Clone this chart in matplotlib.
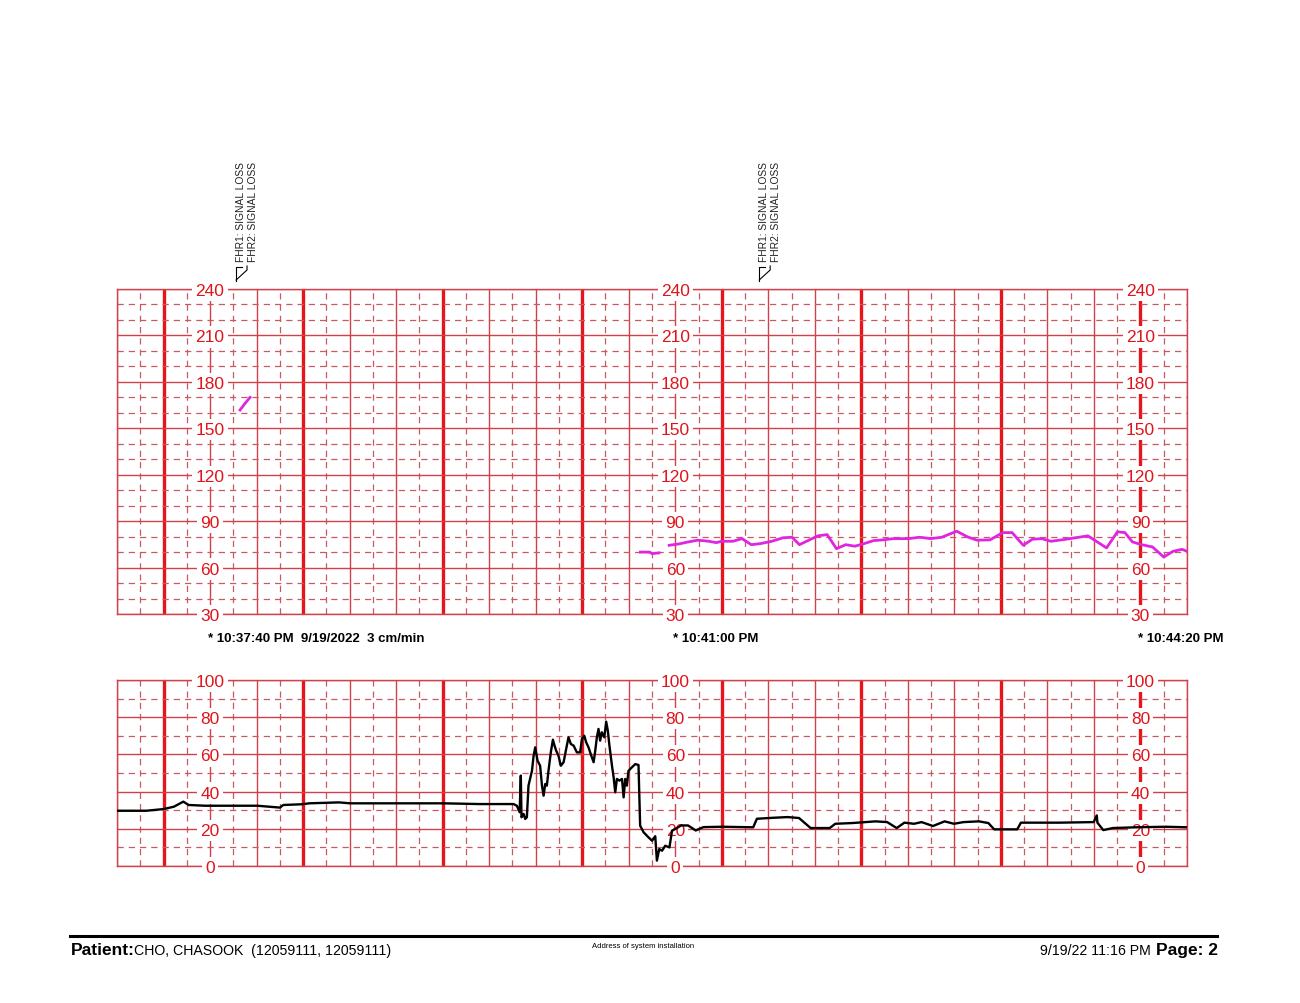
import matplotlib
matplotlib.use("Agg")
import numpy as np
from matplotlib import pyplot as plt
from matplotlib import transforms
from matplotlib.lines import Line2D

plt.rcParams['font.family'] = ['Liberation Sans', 'DejaVu Sans']

# thoi gian tinh bang giay ke tu 10:37:00 PM
fhr_a_t = [52.9, 55.0, 57.2]
fhr_a_bpm = [161.8, 166.0, 170.0]

fhr_b_t = [225.0, 229.0, 230.0, 233.0]
fhr_b_bpm = [70.0, 70.0, 69.0, 69.5]

fhr_c_t = [237.4, 241.7, 245.7, 249.7, 254.4, 257.6, 260.0, 264.8, 268.7, 272.7,
           276.7, 281.5, 286.2, 290.2, 293.4, 297.4, 301.3, 305.3, 309.3, 313.3,
           317.2, 321.2, 325.2, 329.2, 333.9, 340.3, 345.1, 349.8, 354.6, 361.0,
           365.7, 369.7, 375.3, 380.8, 384.8, 389.6, 393.5, 397.5, 401.5, 407.1,
           411.8, 417.4, 421.4, 425.4, 430.1, 433.3, 436.5, 440.5, 445.2, 450.0,
           454.0, 457.9, 460.0]
fhr_c_bpm = [74.4, 75.3, 76.6, 77.7, 77.0, 76.1, 77.0, 77.0, 78.7, 74.8,
             75.5, 77.0, 79.2, 79.6, 74.8, 77.7, 80.5, 81.3, 72.2, 74.8,
             73.8, 75.5, 77.4, 77.9, 78.7, 78.7, 79.6, 78.7, 79.6, 83.5,
             79.8, 77.7, 77.9, 82.6, 82.6, 74.4, 78.3, 78.7, 77.0, 78.1,
             79.2, 80.5, 76.6, 72.7, 83.1, 82.6, 76.6, 74.8, 73.3, 66.8,
             70.5, 71.8, 70.5]

ua_t = [0.0, 12.5, 20.0, 24.5, 28.5, 30.8, 38.0, 60.4, 70.0, 71.5,
        79.5, 82.7, 95.4, 100.2, 140.1, 156.1, 170.5, 171.9, 173.1, 173.6,
        173.9, 174.8, 175.5, 176.2, 176.9, 178.4, 179.1, 179.8, 180.8, 181.9,
        182.7, 183.4, 184.1, 184.8, 185.5, 186.5, 187.4, 188.1, 188.8, 189.8,
        190.8, 192.0, 193.1, 194.1, 195.1, 196.3, 197.7, 199.1, 199.9, 200.9,
        201.7, 202.7, 203.9, 204.9, 205.6, 206.3, 207.0, 207.7, 208.4, 209.5,
        210.3, 211.0, 211.7, 212.8, 213.5, 214.2, 214.9, 216.0, 217.1, 217.8,
        218.5, 219.2, 219.9, 221.4, 222.8, 224.2, 224.9, 226.4, 228.5, 230.0,
        231.4, 232.1, 233.1, 234.3, 235.7, 237.5, 238.6, 240.0, 242.5, 245.5,
        248.8, 252.1, 260.3, 273.5, 275.1, 281.7, 288.3, 293.2, 298.2, 306.4,
        308.8, 316.2, 326.1, 331.1, 335.2, 338.5, 342.6, 345.9, 350.8, 355.8,
        359.8, 363.9, 370.5, 374.6, 377.1, 387.0, 388.6, 405.1, 419.9, 421.2,
        421.5, 424.0, 428.1, 437.9, 451.1, 460.0]
ua_val = [29.7, 29.7, 30.6, 31.9, 34.6, 32.8, 32.4, 32.4, 31.4, 32.8,
          33.2, 33.7, 34.2, 33.7, 33.7, 33.3, 33.3, 32.4, 28.9, 48.6,
          26.2, 28.0, 25.3, 26.2, 43.2, 51.2, 59.3, 63.8, 56.6, 53.9,
          43.2, 37.8, 44.1, 43.2, 51.2, 61.1, 67.9, 64.7, 62.0, 59.3,
          53.9, 55.8, 62.9, 69.2, 65.6, 64.7, 61.1, 61.1, 68.3, 70.0,
          66.5, 63.8, 59.3, 55.8, 62.0, 69.2, 73.7, 67.4, 71.9, 69.2,
          77.6, 72.8, 64.7, 53.9, 47.7, 39.6, 46.8, 45.9, 46.8, 36.9,
          46.8, 43.2, 51.2, 53.1, 54.8, 54.3, 21.7, 18.1, 15.4, 13.6,
          16.0, 2.9, 9.1, 8.2, 10.9, 10.0, 19.0, 19.9, 21.8, 21.8,
          19.1, 20.9, 21.1, 20.8, 25.4, 25.9, 26.3, 25.8, 20.4, 20.4,
          22.7, 23.1, 24.0, 23.6, 20.4, 23.3, 22.7, 23.6, 21.5, 24.0,
          22.7, 23.6, 24.0, 23.1, 19.7, 19.7, 23.3, 23.3, 23.6, 27.2,
          23.3, 19.3, 20.4, 20.8, 21.1, 20.8]

fhr_ticks = [30, 60, 90, 120, 150, 180, 210, 240]
ua_ticks = [0, 20, 40, 60, 80, 100]
label_cols = [40, 240, 440]
time_labels = ["* 10:37:40 PM  9/19/2022  3 cm/min", "* 10:41:00 PM", "* 10:44:20 PM"]
event_t = [55.8, 280.7]
event_text = "FHR1: SIGNAL LOSS\nFHR2: SIGNAL LOSS"

T_MAX = 460
RED_THICK = '#e8141c'
RED_THIN = '#d0424a'
RED_DASH = '#c95a62'
RED_TXT = '#e0141c'

fig = plt.figure(figsize=(13, 10.04), dpi=100)
ax1 = fig.add_axes([117/1300, 1-615/1004, 1070/1300, 325/1004])
ax2 = fig.add_axes([117/1300, 1-867/1004, 1070/1300, 186/1004])


def ve_luoi(ax, y0, y1, major):
    ax.set_xlim(0, T_MAX)
    ax.set_ylim(y0, y1)
    # duong doc
    for t in range(0, T_MAX + 1, 10):
        if (t - 20) % 60 == 0:
            ax.axvline(t, color=RED_THICK, lw=2.4, zorder=1)
        elif t % 20 == 0:
            ax.axvline(t, color=RED_THIN, lw=1.0, zorder=1)
        else:
            ax.axvline(t, color=RED_DASH, lw=0.9, ls=(0, (5, 4)), zorder=1)
    # duong ngang
    for v in range(y0, y1 + 1, 10):
        if (v - y0) % major == 0:
            ax.axhline(v, color=RED_THIN, lw=1.0, zorder=1)
        else:
            ax.axhline(v, color=RED_DASH, lw=0.9, ls=(0, (5, 4)), zorder=1)
    for s in ax.spines.values():
        s.set_color(RED_THIN)
        s.set_linewidth(1.0)
    ax.set_xticks([])
    ax.set_yticks([])


ve_luoi(ax1, 30, 240, 30)
ve_luoi(ax2, 0, 100, 20)

for c in label_cols:
    for v in fhr_ticks:
        ax1.text(c, v, str(v), color=RED_TXT, fontsize=12.5, ha='center', va='center_baseline',
                 bbox=dict(facecolor='white', edgecolor='none', pad=2.2), zorder=3, clip_on=False)
    for v in ua_ticks:
        ax2.text(c, v, str(v), color=RED_TXT, fontsize=12.5, ha='center', va='center_baseline',
                 bbox=dict(facecolor='white', edgecolor='none', pad=2.2), zorder=3, clip_on=False)

# du lieu
FHR_COLOR = '#e025e0'
ax1.plot(fhr_a_t, fhr_a_bpm, color=FHR_COLOR, lw=2.0, zorder=4)
ax1.plot(fhr_b_t, fhr_b_bpm, color=FHR_COLOR, lw=2.0, zorder=4)
ax1.plot(fhr_c_t, fhr_c_bpm, color=FHR_COLOR, lw=2.0, zorder=4)
ax2.plot(ua_t, ua_val, color='black', lw=1.7, zorder=4)

# nhan thoi gian
trans1 = transforms.blended_transform_factory(ax1.transData, ax1.transAxes)
for c, lab in zip(label_cols, time_labels):
    ax1.text(c - 1, -0.074, lab, transform=trans1, fontsize=9.5, fontweight='bold',
             ha='left', va='center', color='black')

# su kien mat tin hieu
for t in event_t:
    ax1.text(t, 1.086, event_text, transform=trans1, rotation=90, fontsize=7.4,
             ha='center', va='bottom', color='#222222', linespacing=1.25)
    f = t - 4.6
    ax1.plot([f + 2.6, f, f], [1.0677, 1.0677, 1.0246], transform=trans1,
             color='black', lw=0.8, clip_on=False)
    ax1.plot([f, f + 4.7, f + 4.7], [1.0277, 1.0585, 1.0708], transform=trans1,
             color='black', lw=0.8, clip_on=False)

# chan trang
fig.add_artist(Line2D([70/1300, 1217/1300], [1-937/1004]*2, color='black', lw=2.2))
fig.text(71/1300, 1-951/1004, "Patient:", fontsize=12.5, fontweight='bold', va='center')
fig.text(134/1300, 1-951/1004, "CHO, CHASOOK  (12059111, 12059111)", fontsize=10.2, va='center')
fig.text(643/1300, 1-946/1004, "Address of system installation", fontsize=5.5, ha='center', va='center')
fig.text(1151/1300, 1-951/1004, "9/19/22 11:16 PM", fontsize=10.2, ha='right', va='center')
fig.text(1218/1300, 1-951/1004, "Page: 2", fontsize=12.5, fontweight='bold', ha='right', va='center')

fig.savefig("out.png", dpi=100, facecolor='white')
